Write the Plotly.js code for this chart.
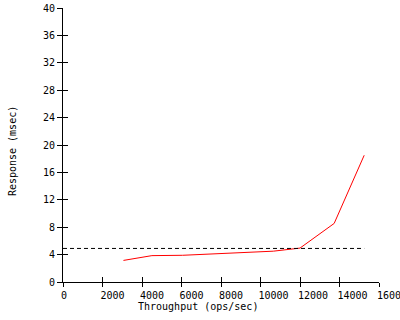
<!DOCTYPE html>
<html>
<head>
<meta charset="utf-8">
<script src="https://cdn.plot.ly/plotly-3.0.1.min.js"></script>
<style>html,body{margin:0;padding:0;background:#fff;}#chart{width:400px;height:320px;}</style>
</head>
<body>
<div id="chart"></div>
<script>
// Data
var throughput = [3060, 4500, 6050, 7600, 9150, 10650, 12000, 13730, 15250];
var response   = [3.15, 3.85, 3.9, 4.1, 4.3, 4.5, 4.95, 8.55, 18.5];
var slaX = [0, 15250];
var slaY = [4.9, 4.9];
var xTickVals = [0, 2000, 4000, 6000, 8000, 10000, 12000, 14000, 16000];
var xTickLabels = ['0', '2000', '4000', '6000', '8000', '10000', '12000', '14000', '16000'];
var yTickVals = [0, 4, 8, 12, 16, 20, 24, 28, 32, 36, 40];
var yTickLabels = ['0', '4', '8', '12', '16', '20', '24', '28', '32', '36', '40'];
var xTitle = 'Throughput (ops/sec)';
var yTitle = 'Response (msec)';

var FONT = 'DejaVu Sans Mono';
// left-align x tick labels by padding to equal width (monospace)
var padded = xTickLabels.map(function (s) {
  while (s.length < 5) s += '\u00a0';
  return s;
});

var traces = [
  {x: throughput, y: response, type: 'scatter', mode: 'lines',
   line: {color: '#ff0000', width: 1}, xaxis: 'x', yaxis: 'y', hoverinfo: 'none'},
  {x: slaX, y: slaY, type: 'scatter', mode: 'lines',
   line: {color: '#000000', width: 1, dash: '4px,3px'}, xaxis: 'x2', yaxis: 'y2', hoverinfo: 'none'}
];

var common = {showgrid: false, zeroline: false, fixedrange: true};
var layout = {
  width: 400, height: 320,
  margin: {l: 63, r: 21, t: 8, b: 38, pad: 0},
  paper_bgcolor: '#ffffff', plot_bgcolor: '#ffffff',
  showlegend: false,
  font: {family: FONT, size: 10, color: '#000'},
  xaxis: Object.assign({}, common, {
    range: [0, 16000], tickmode: 'array', tickvals: xTickVals, ticktext: padded,
    ticks: 'outside', ticklen: 4, tickwidth: 1, tickcolor: '#000',
    showline: true, linecolor: '#000', linewidth: 1,
    ticklabelshift: 13, ticklabeloverflow: 'allow',
    tickfont: {family: FONT, size: 10, color: '#000'}
  }),
  yaxis: Object.assign({}, common, {
    range: [0, 40], tickmode: 'array', tickvals: yTickVals, ticktext: yTickLabels,
    ticks: 'outside', ticklen: 5, tickwidth: 1, tickcolor: '#000',
    showline: true, linecolor: '#000', linewidth: 1,
    ticklabeloverflow: 'allow',
    tickfont: {family: FONT, size: 10, color: '#000'}
  }),
  xaxis2: Object.assign({}, common, {
    overlaying: 'x', anchor: 'y2', side: 'bottom',
    range: [0, 16000], tickmode: 'array', tickvals: xTickVals,
    ticks: 'inside', ticklen: 5, tickwidth: 1, tickcolor: '#000',
    showticklabels: false, showline: false
  }),
  yaxis2: Object.assign({}, common, {
    overlaying: 'y', anchor: 'x2', side: 'left',
    range: [0, 40], tickmode: 'array', tickvals: yTickVals,
    ticks: 'inside', ticklen: 5, tickwidth: 1, tickcolor: '#000',
    showticklabels: false, showline: false
  }),
  annotations: [
    {text: xTitle, xref: 'paper', yref: 'paper', x: 0.4287, y: -0.091,
     xanchor: 'center', yanchor: 'middle', showarrow: false,
     font: {family: FONT, size: 10, color: '#000'}},
    {text: yTitle, xref: 'paper', yref: 'paper', x: -0.162, y: 0.477,
     xanchor: 'center', yanchor: 'middle', showarrow: false, textangle: -90,
     font: {family: FONT, size: 10, color: '#000'}}
  ]
};

Plotly.newPlot('chart', traces, layout, {staticPlot: true, displayModeBar: false});
</script>
</body>
</html>
